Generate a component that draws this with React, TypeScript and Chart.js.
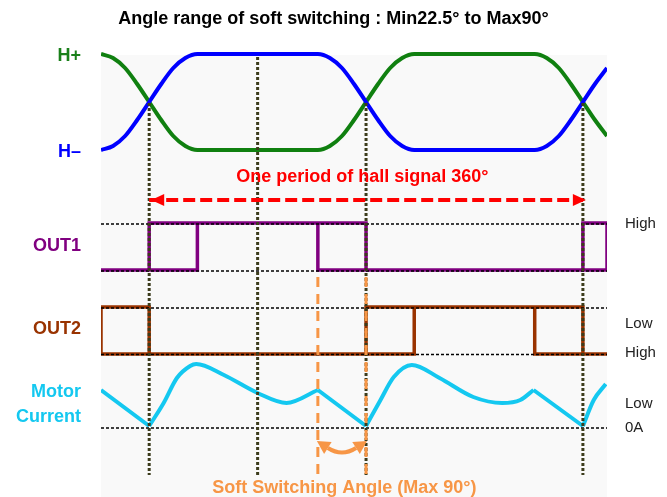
import React, { useEffect, useRef } from 'react';
import { Chart, registerables } from 'chart.js';

Chart.register(...registerables);

const FONT = "'Liberation Sans', Arial, Helvetica, sans-serif";
const TITLE = 'Angle range of soft switching : Min22.5° to Max90°';
const PERIOD_TEXT = 'One period of hall signal 360°';
const SOFT_TEXT = 'Soft Switching Angle (Max 90°)';

// x axis: electrical angle (degrees); y axis: vertical level in the diagram (top = small)
const X_MIN = -40;
const X_MAX = 380;
const Y_TOP = 40;
const Y_BOTTOM = 497;

// Hall sensor signals
const hallAngles = [-40, -30, -20, -10, 0, 10, 20, 30, 40, 140, 150, 160, 170, 180, 190, 200, 210, 220, 320, 330, 340, 350, 360, 370, 380];
const hPlus = [54, 58, 68, 84, 102, 120, 136, 146, 150, 150, 146, 136, 120, 102, 84, 68, 58, 54, 54, 58, 68, 84, 102, 120, 136];
const hMinus = [150, 146, 136, 120, 102, 84, 68, 58, 54, 54, 58, 68, 84, 102, 120, 136, 146, 150, 150, 146, 136, 120, 102, 84, 68];

// OUT1 (null = pen up)
const out1Angles = [-40, 40, 40, 40, 0, 0, 180, 180, 360, 360, 380, 380, 360, 360, 140, 140, 180];
const out1Levels = [270, 270, 223, null, 270, 223, 223, 270, 270, 223, 223, 270, 270, null, 223, 270, 270];

// OUT2 (null = pen up)
const out2Angles = [0, 0, -40, -40, 220, 220, 180, 180, 180, 220, 360, 360, 380, 380, 320, 320, 360];
const out2Levels = [354, 307, 307, 354, 354, 307, 307, 354, null, 307, 307, 354, 354, null, 307, 354, 354];

// Motor current (null = break between curved / straight pieces)
const currentAngles = [-40, 0, 0, 0, 12, 23, 34, 39, 62, 90, 114, 140, 140, 140, 180, 180, 180, 192, 203, 218, 241, 269, 293, 308, 319, 319, 319, 360, 360, 360, 369, 379];
const currentLevels = [390, 426, null, 426, 403, 378, 366, 364, 375, 393, 403, 390, null, 390, 426, null, 426, 400, 377, 365, 378, 397, 403, 400, 390, null, 390, 426, null, 426, 400, 384];

// Reference (dotted) level lines
const refLevels = [224, 271, 308, 354.5, 428];

// Vertical markers (hall edges / 90°)
const markerAngles = [0, 90, 180, 360];
const markerTops = [103, 57, 103, 103];
const markerBottom = 475;

// Soft switching window
const softAngles = [140, 180];
const softTop = 277;
const softBottom = 475;

// Hall period arrow
const periodAngles = [0, 360];
const periodLevel = 200;

// Axis labels
const leftLabels = ['H+', 'H–', 'OUT1', 'OUT2', 'Motor', 'Current'];
const leftLabelLevels = [56, 152, 246, 329, 392, 417];
const leftLabelColors = ['#1a801a', '#0000ff', '#800080', '#993300', '#14c8f0', '#14c8f0'];
const rightLabels = ['High', 'Low', 'High', 'Low', '0A'];
const rightLabelLevels = [224, 324, 353, 404, 428];

const pts = (xs: number[], ys: (number | null)[]) => xs.map((x, i) => ({ x, y: ys[i] }));

function segs(xsA: number[], tops: number[], bottom: number) {
  const out: { x: number; y: number | null }[] = [];
  xsA.forEach((x, i) => {
    if (i > 0) out.push({ x, y: null });
    out.push({ x, y: tops[i] });
    out.push({ x, y: bottom });
  });
  return out;
}

function tri(ctx: CanvasRenderingContext2D, a: number[], b: number[], c: number[]) {
  ctx.beginPath();
  ctx.moveTo(a[0], a[1]);
  ctx.lineTo(b[0], b[1]);
  ctx.lineTo(c[0], c[1]);
  ctx.closePath();
  ctx.fill();
}

const overlay = {
  id: 'overlay',
  beforeDatasetsDraw(chart: any) {
    const { ctx, chartArea, scales } = chart;
    const top = scales.y.getPixelForValue(55);
    ctx.save();
    ctx.fillStyle = '#f9f9f9';
    ctx.fillRect(chartArea.left, top, chartArea.right - chartArea.left, chartArea.bottom - top);
    ctx.restore();
  },
  afterDatasetsDraw(chart: any) {
    const { ctx, scales } = chart;
    const x = scales.x;
    const y = scales.y;
    ctx.save();
    // red period arrow heads
    const ya = y.getPixelForValue(periodLevel);
    const xl = x.getPixelForValue(periodAngles[0]);
    const xr = x.getPixelForValue(periodAngles[1]);
    ctx.fillStyle = '#ff0000';
    tri(ctx, [xl + 2, ya], [xl + 15, ya - 6], [xl + 15, ya + 6]);
    tri(ctx, [xr + 3, ya], [xr - 10, ya - 6], [xr - 10, ya + 6]);

    // orange curved double arrow
    const s0 = x.getPixelForValue(softAngles[0]);
    const s1 = x.getPixelForValue(softAngles[1]);
    const yb = y.getPixelForValue(448);
    const yc = y.getPixelForValue(457);
    const mid = (s0 + s1) / 2;
    const b0 = [s0 + 10, yb];
    const b1 = [s1 - 10, yb];
    ctx.strokeStyle = '#f79646';
    ctx.fillStyle = '#f79646';
    ctx.lineWidth = 4;
    ctx.beginPath();
    ctx.moveTo(b0[0], b0[1]);
    ctx.quadraticCurveTo(mid, yc, b1[0], b1[1]);
    ctx.stroke();
    const head = (b: number[], dx: number, dy: number) => {
      const len = Math.hypot(dx, dy);
      const ux = dx / len, uy = dy / len;
      const px = -uy, py = ux;
      tri(ctx, [b[0] + ux * 13, b[1] + uy * 13], [b[0] + px * 7, b[1] + py * 7], [b[0] - px * 7, b[1] - py * 7]);
    };
    head(b0, b0[0] - mid, b0[1] - yc);
    head(b1, b1[0] - mid, b1[1] - yc);

    // texts
    ctx.textAlign = 'center';
    ctx.textBaseline = 'alphabetic';
    ctx.font = `bold 18px ${FONT}`;
    ctx.fillStyle = '#ff0000';
    ctx.fillText(PERIOD_TEXT, x.getPixelForValue(177), y.getPixelForValue(182));
    ctx.fillStyle = '#f79646';
    ctx.fillText(SOFT_TEXT, x.getPixelForValue(162), y.getPixelForValue(493));
    ctx.restore();
  },
};

function lineDs(data: any[], color: string, width: number, order: number, extra: any = {}) {
  return {
    data,
    borderColor: color,
    backgroundColor: color,
    borderWidth: width,
    pointRadius: 0,
    fill: false,
    tension: 0,
    spanGaps: false,
    order,
    borderJoinStyle: 'miter',
    borderCapStyle: 'butt',
    ...extra,
  };
}

export default function App() {
  const ref = useRef<HTMLCanvasElement>(null);
  useEffect(() => {
    const canvas = ref.current;
    if (!canvas) return;
    const refData: any[] = [];
    refLevels.forEach((lv, i) => {
      if (i > 0) refData.push({ x: X_MAX, y: null });
      refData.push({ x: X_MIN, y: lv });
      refData.push({ x: X_MAX, y: lv });
    });
    const datasets: any[] = [
      lineDs(pts(periodAngles, [periodLevel, periodLevel]), '#ff0000', 4, 0, { borderDash: [12, 5] }),
      lineDs(segs(softAngles, softAngles.map(() => softTop), softBottom), '#f79646', 3, 1, { borderDash: [10, 7] }),
      lineDs(segs(markerAngles, markerTops, markerBottom), '#3c3c1c', 3, 2, { borderDash: [3, 2] }),
      lineDs(refData, '#000000', 1.5, 3, { borderDash: [3, 2] }),
      lineDs(pts(currentAngles, currentLevels), '#14c8f0', 4, 4, { cubicInterpolationMode: 'monotone', borderJoinStyle: 'round', borderCapStyle: 'butt' }),
      lineDs(pts(out1Angles, out1Levels), '#800080', 3.5, 5),
      lineDs(pts(out2Angles, out2Levels), '#993300', 3.5, 6),
      lineDs(pts(hallAngles, hMinus), '#0000ff', 4, 7, { cubicInterpolationMode: 'monotone' }),
      lineDs(pts(hallAngles, hPlus), '#108010', 4, 8, { cubicInterpolationMode: 'monotone' }),
    ];

    const sideAxis = (position: string, labels: string[], levels: number[], width: number, padding: number, font: any, color: any) => ({
      type: 'linear',
      position,
      reverse: true,
      min: Y_TOP,
      max: Y_BOTTOM,
      grid: { display: false, drawTicks: false },
      border: { display: false },
      afterBuildTicks: (s: any) => {
        s.ticks = levels.map((v) => ({ value: v }));
      },
      afterFit: (s: any) => {
        s.width = width;
        s.paddingTop = 0;
        s.paddingBottom = 0;
      },
      ticks: {
        autoSkip: false,
        padding,
        font,
        color,
        callback: (_v: any, i: number) => labels[i],
      },
    });

    const chart = new Chart(canvas, {
      type: 'line',
      data: { datasets },
      plugins: [overlay],
      options: {
        animation: false,
        responsive: true,
        maintainAspectRatio: false,
        devicePixelRatio: 1,
        layout: { padding: 0 },
        plugins: {
          legend: { display: false },
          tooltip: { enabled: false },
          title: {
            display: true,
            text: TITLE,
            color: '#000000',
            font: { family: FONT, size: 18, weight: 'bold', lineHeight: 1.2 },
            padding: { top: 8, bottom: 10.4 },
          },
        },
        scales: {
          x: { type: 'linear', min: X_MIN, max: X_MAX, display: false },
          y: sideAxis('left', leftLabels, leftLabelLevels, 101, 20, { family: FONT, size: 18, weight: 'bold' }, (c: any) => leftLabelColors[c.index]),
          y2: sideAxis('right', rightLabels, rightLabelLevels, 60, 18, { family: FONT, size: 15 }, '#222222'),
        },
      } as any,
    } as any);
    return () => chart.destroy();
  }, []);
  return (
    <div style={{ position: 'absolute', left: 0, top: 0, width: 667, height: 497 }}>
      <canvas ref={ref} style={{ display: 'block' }} />
    </div>
  );
}
